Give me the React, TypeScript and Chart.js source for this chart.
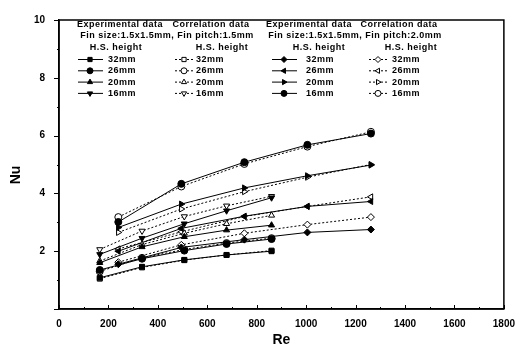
import React, { useEffect, useRef } from 'react';
import { Chart, registerables } from 'chart.js';
import { drawPoint } from 'chart.js/helpers';

Chart.register(...registerables);

// Re values for the two fin pitch groups
const reA = [165, 336, 507, 678, 860];
const reB = [240, 495, 750, 1005, 1262];

// Fin pitch 1.5 mm
const expA32 = [1.08, 1.46, 1.7, 1.87, 2.0];
const expA26 = [1.35, 1.74, 2.02, 2.25, 2.42];
const expA20 = [1.6, 2.15, 2.5, 2.73, 2.9];
const expA16 = [1.89, 2.45, 2.95, 3.4, 3.85];
const corA32 = [1.05, 1.44, 1.69, 1.87, 2.02];
const corA26 = [1.3, 1.77, 2.06, 2.28, 2.45];
const corA20 = [1.66, 2.23, 2.62, 2.95, 3.24];
const corA16 = [2.06, 2.7, 3.2, 3.57, 3.9];

// Fin pitch 2.0 mm
const expB32 = [1.55, 2.13, 2.4, 2.65, 2.75];
const expB26 = [2.0, 2.79, 3.21, 3.55, 3.72];
const expB20 = [2.82, 3.63, 4.19, 4.61, 4.98];
const expB16 = [3.01, 4.33, 5.08, 5.68, 6.07];
const corB32 = [1.62, 2.22, 2.62, 2.92, 3.18];
const corB26 = [2.08, 2.67, 3.2, 3.55, 3.88];
const corB20 = [2.65, 3.46, 4.06, 4.56, 5.0];
const corB16 = [3.18, 4.24, 5.02, 5.62, 6.13];

const heights = ['32mm', '26mm', '20mm', '16mm'];
const xTicks = [0, 200, 400, 600, 800, 1000, 1200, 1400, 1600, 1800];
const yTicks = [2, 4, 6, 8, 10];

const FONT = '"Liberation Sans", Arial, sans-serif';

type Spec = { label: string; xs: number[]; ys: number[]; exp: boolean; style: string; rot: number };

const specs: Spec[] = [
  { label: heights[0], xs: reA, ys: expA32, exp: true, style: 'rect', rot: 0 },
  { label: heights[1], xs: reA, ys: expA26, exp: true, style: 'circle', rot: 0 },
  { label: heights[2], xs: reA, ys: expA20, exp: true, style: 'triangle', rot: 0 },
  { label: heights[3], xs: reA, ys: expA16, exp: true, style: 'triangle', rot: 180 },
  { label: heights[0], xs: reA, ys: corA32, exp: false, style: 'rect', rot: 0 },
  { label: heights[1], xs: reA, ys: corA26, exp: false, style: 'circle', rot: 0 },
  { label: heights[2], xs: reA, ys: corA20, exp: false, style: 'triangle', rot: 0 },
  { label: heights[3], xs: reA, ys: corA16, exp: false, style: 'triangle', rot: 180 },
  { label: heights[0], xs: reB, ys: expB32, exp: true, style: 'rectRot', rot: 0 },
  { label: heights[1], xs: reB, ys: expB26, exp: true, style: 'triangle', rot: 270 },
  { label: heights[2], xs: reB, ys: expB20, exp: true, style: 'triangle', rot: 90 },
  { label: heights[3], xs: reB, ys: expB16, exp: true, style: 'circle', rot: 0 },
  { label: heights[0], xs: reB, ys: corB32, exp: false, style: 'rectRot', rot: 0 },
  { label: heights[1], xs: reB, ys: corB26, exp: false, style: 'triangle', rot: 270 },
  { label: heights[2], xs: reB, ys: corB20, exp: false, style: 'triangle', rot: 90 },
  { label: heights[3], xs: reB, ys: corB16, exp: false, style: 'circle', rot: 0 },
];

const decorPlugin = {
  id: 'decor',
  afterDraw(chart: any) {
    const ctx = chart.ctx as CanvasRenderingContext2D;
    const a = chart.chartArea;
    const xs = chart.scales.x;
    const ys = chart.scales.y;
    ctx.save();
    // frame
    ctx.strokeStyle = '#000';
    ctx.lineWidth = 1.5;
    ctx.strokeRect(a.left, a.top, a.right - a.left, a.bottom - a.top);
    // ticks
    ctx.lineWidth = 1;
    for (let v = 0; v <= 1800; v += 100) {
      const px = Math.round(xs.getPixelForValue(v)) + 0.5;
      const len = v % 200 === 0 ? 4 : 2;
      ctx.beginPath();
      ctx.moveTo(px, a.bottom);
      ctx.lineTo(px, a.bottom - len);
      ctx.stroke();
    }
    for (let v = 0; v <= 10; v += 1) {
      const py = Math.round(ys.getPixelForValue(v)) + 0.5;
      const len = v % 2 === 0 ? 5 : 2;
      ctx.beginPath();
      ctx.moveTo(a.left, py);
      ctx.lineTo(a.left - len, py);
      ctx.stroke();
    }
    // axis titles
    ctx.fillStyle = '#000';
    ctx.font = `bold 14px ${FONT}`;
    ctx.textAlign = 'center';
    ctx.textBaseline = 'middle';
    ctx.fillText('Re', (a.left + a.right) / 2, 340);
    ctx.save();
    ctx.translate(16, 175);
    ctx.rotate(-Math.PI / 2);
    ctx.fillText('Nu', 0, 0);
    ctx.restore();

    // legend
    ctx.font = `bold 9px ${FONT}`;
    (ctx as any).letterSpacing = '0.5px';
    ctx.textBaseline = 'middle';
    ctx.textAlign = 'center';
    ctx.fillText('Experimental data', 120, 25);
    ctx.fillText('Correlation data', 211, 25);
    ctx.fillText('Experimental data', 309, 25);
    ctx.fillText('Correlation data', 399, 25);
    ctx.fillText('Fin size:1.5x1.5mm, Fin pitch:1.5mm', 167, 36);
    ctx.fillText('Fin size:1.5x1.5mm, Fin pitch:2.0mm', 355, 36);
    ctx.fillText('H.S. height', 116, 47.5);
    ctx.fillText('H.S. height', 222, 47.5);
    ctx.fillText('H.S. height', 319, 47.5);
    ctx.fillText('H.S. height', 411, 47.5);
    const cols = [
      { l0: 78, l1: 103, m: 90, t: 108 },
      { l0: 175, l1: 193, m: 184, t: 196 },
      { l0: 272, l1: 297, m: 284, t: 306 },
      { l0: 369, l1: 387, m: 378, t: 392 },
    ];
    ctx.textAlign = 'left';
    chart.data.datasets.forEach((ds: any, i: number) => {
      const c = cols[Math.floor(i / 4)];
      const y = 59.5 + (i % 4) * 11.3;
      ctx.save();
      ctx.strokeStyle = '#000';
      ctx.lineWidth = 1;
      ctx.setLineDash(ds.borderDash || []);
      ctx.beginPath();
      ctx.moveTo(c.l0, y);
      ctx.lineTo(c.l1, y);
      ctx.stroke();
      ctx.setLineDash([]);
      ctx.fillStyle = ds.pointBackgroundColor;
      ctx.strokeStyle = '#000';
      drawPoint(ctx, { pointStyle: ds.pointStyle, rotation: ds.pointRotation, radius: 3, borderWidth: 1 } as any, c.m, y);
      ctx.restore();
      ctx.fillStyle = '#000';
      ctx.fillText(ds.label, c.t, y);
    });
    ctx.restore();
  },
};

export default function App() {
  const ref = useRef<HTMLCanvasElement | null>(null);
  useEffect(() => {
    if (!ref.current) return;
    const datasets = specs.map((s) => ({
      label: s.label,
      data: s.xs.map((x, i) => ({ x, y: s.ys[i] })),
      borderColor: '#000',
      borderWidth: 1,
      borderDash: s.exp ? [] : [2, 2],
      pointStyle: s.style,
      pointRotation: s.rot,
      pointRadius: 3.5,
      pointBackgroundColor: s.exp ? '#000' : '#fff',
      pointBorderColor: '#000',
      pointBorderWidth: 1,
      tension: 0,
      fill: false,
    }));
    const chart = new Chart(ref.current, {
      type: 'line',
      data: { datasets } as any,
      plugins: [decorPlugin],
      options: {
        animation: false,
        responsive: false,
        devicePixelRatio: 1,
        layout: { padding: { left: 0, right: 15, top: 13, bottom: 0 } },
        plugins: { legend: { display: false }, tooltip: { enabled: false } },
        scales: {
          x: {
            type: 'linear',
            min: 0,
            max: 1800,
            afterFit: (s: any) => { s.height = 45; },
            afterBuildTicks: (s: any) => { s.ticks = xTicks.map((v) => ({ value: v })); },
            ticks: { color: '#000', padding: 9, callback: (v: any) => String(v), font: { family: FONT, weight: 'bold', size: 10 } },
            grid: { display: false, drawTicks: false },
            border: { display: true, color: '#000', width: 1.5 },
          },
          y: {
            type: 'linear',
            min: 0,
            max: 10,
            afterFit: (s: any) => { s.width = 59; },
            afterBuildTicks: (s: any) => { s.ticks = yTicks.map((v) => ({ value: v })); },
            ticks: { color: '#000', padding: 14, callback: (v: any) => String(v), font: { family: FONT, weight: 'bold', size: 10 } },
            grid: { display: false, drawTicks: false },
            border: { display: true, color: '#000', width: 1.5 },
          },
        },
      } as any,
    });
    return () => chart.destroy();
  }, []);
  return (
    <div style={{ position: 'fixed', left: 0, top: 0, width: 524, height: 354, background: '#fff' }}>
      <canvas ref={ref} width={524} height={354} style={{ display: 'block' }} />
    </div>
  );
}
